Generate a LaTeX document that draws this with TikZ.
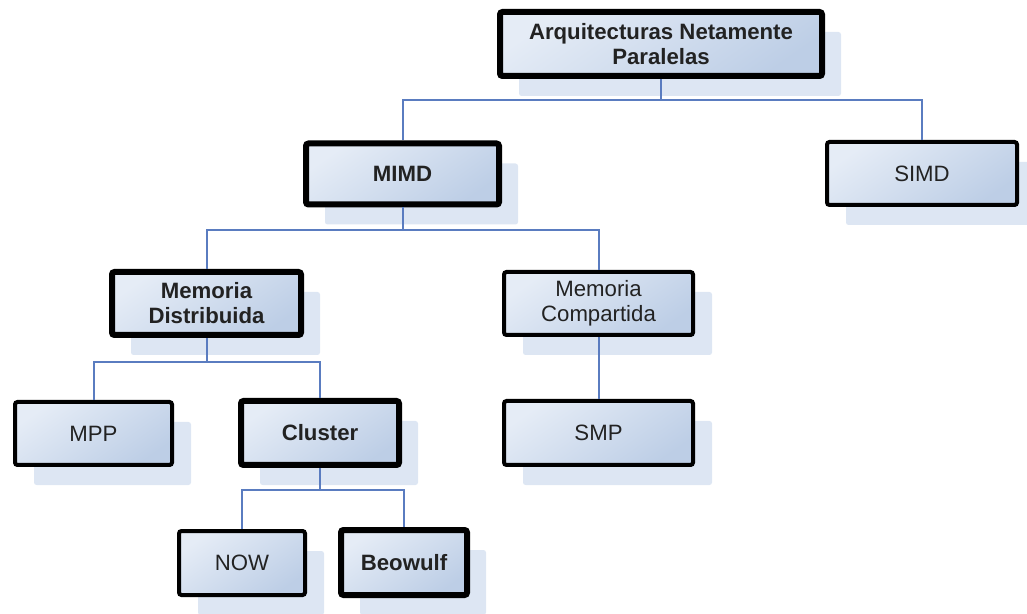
\documentclass[tikz,border=0pt]{standalone}
\usepackage{fontspec}
\setmainfont{Liberation Sans}
\usetikzlibrary{shadows}
\definecolor{linec}{HTML}{5A7CC0}
\definecolor{shadowc}{HTML}{DDE6F3}
\definecolor{fillA}{HTML}{E5ECF6}
\definecolor{fillB}{HTML}{BDCEE6}
\definecolor{textc}{HTML}{222222}
\tikzset{
  box/.style={rectangle, rounded corners=2.5pt, draw=black, line width=4pt,
    top color=fillA, bottom color=fillB, shading angle=35,
    inner sep=0pt, align=center, text=textc,
    font=\fontsize{22.2}{25}\selectfont,
    drop shadow={shadow xshift=19pt, shadow yshift=-20pt, fill=shadowc, opacity=1, rounded corners=0pt}},
  strong/.style={box, line width=6pt, font=\fontsize{22.2}{25}\selectfont\bfseries},
  conn/.style={draw=linec, line width=2pt},
}
\begin{document}
\begin{tikzpicture}[x=1pt,y=1pt]
\useasboundingbox (0,0) rectangle (1027,613);
\node[strong, minimum width=322pt, minimum height=64pt] (top) at (661,569) {Arquitecturas Netamente\\Paralelas};
\node[strong, minimum width=193pt, minimum height=61pt] (mimd) at (402.5,439) {MIMD};
\node[box, minimum width=190pt, minimum height=63pt] (simd) at (922,439.5) {SIMD};
\node[strong, minimum width=189pt, minimum height=63pt] (memd) at (206.5,309.5) {Memoria\\Distribuida};
\node[box, minimum width=189pt, minimum height=63pt] (memc) at (598.5,309.5) {Memoria\\Compartida};
\node[box, minimum width=157pt, minimum height=63pt] (mpp) at (93.5,179.5) {MPP};
\node[strong, minimum width=158pt, minimum height=64pt] (cluster) at (320,180) {Cluster};
\node[box, minimum width=189pt, minimum height=64pt] (smp) at (598.5,180) {SMP};
\node[box, minimum width=126pt, minimum height=64pt] (now) at (242,50) {NOW};
\node[strong, minimum width=126pt, minimum height=65pt] (beo) at (404,50.5) {Beowulf};
\coordinate (b1) at (0,513);
\coordinate (b2) at (0,383);
\coordinate (b3) at (0,251);
\coordinate (b4) at (0,123);
\draw[conn] (top.south) -- (top.south |- b1) -| (mimd.north);
\draw[conn] (top.south |- b1) -| (simd.north);
\draw[conn] (mimd.south) -- (mimd.south |- b2) -| (memd.north);
\draw[conn] (mimd.south |- b2) -| (memc.north);
\draw[conn] (memd.south) -- (memd.south |- b3) -| (mpp.north);
\draw[conn] (memd.south |- b3) -| (cluster.north);
\draw[conn] (memc.south) -- (smp.north);
\draw[conn] (cluster.south) -- (cluster.south |- b4) -| (now.north);
\draw[conn] (cluster.south |- b4) -| (beo.north);
\end{tikzpicture}
\end{document}
